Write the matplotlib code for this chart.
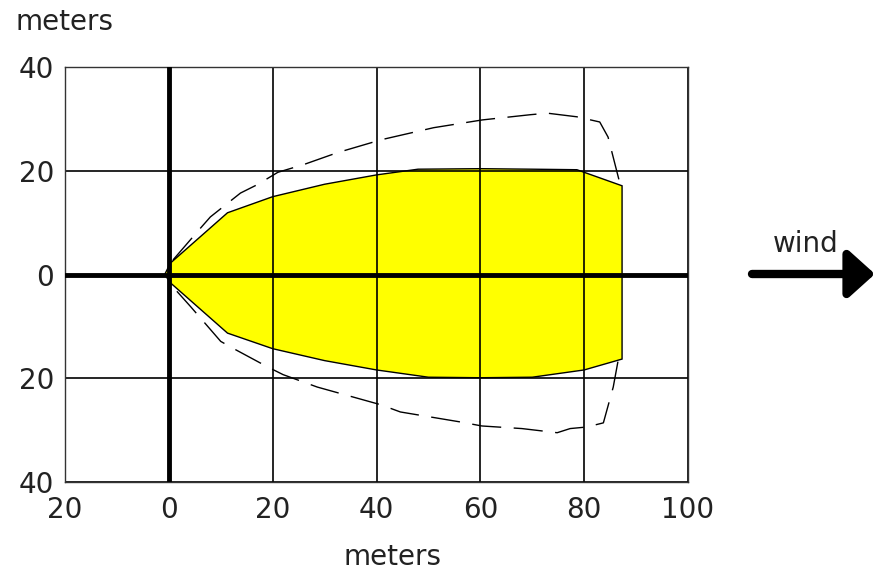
import numpy as np
import matplotlib
matplotlib.use("Agg")
import matplotlib.pyplot as plt

plt.rcParams.update({'font.family': 'DejaVu Sans', 'font.size': 20})

# yellow footprint: upper edge left->right, lower edge right->left
zone_x_up = [-0.8, 0.3, 11.3, 20, 30, 40, 48, 60, 70, 78.6, 87.3]
zone_y_up = [0.0, 2.2, 11.9, 15.0, 17.4, 19.2, 20.3, 20.4, 20.3, 20.2, 17.1]
zone_x_lo = [87.3, 80.0, 70, 60, 50, 40, 30, 20, 11.3, 0.3]
zone_y_lo = [-16.3, -18.4, -19.8, -19.9, -19.8, -18.4, -16.6, -14.3, -11.3, -1.6]

# dashed envelope: upper edge left->right, lower edge right->left
env_x_up = [0.8, 5.8, 8.0, 13.8, 17.0, 21.0, 26.0, 32.5, 41.0, 51.0, 60.4, 69.6, 72.9, 78.6, 83.0, 84.6, 87.0]
env_y_up = [2.8, 8.6, 11.1, 15.7, 17.3, 19.7, 21.2, 23.5, 26.0, 28.3, 29.8, 30.8, 31.1, 30.4, 29.4, 26.5, 17.1]
env_x_lo = [86.5, 85.6, 83.7, 80.5, 77.3, 74.8, 68.0, 60.3, 56.0, 53.6, 44.6, 40.8, 28.6, 22.0, 19.0, 12.5, 10.0, 4.2, 0.8]
env_y_lo = [-16.8, -21.7, -28.6, -29.4, -29.7, -30.5, -29.7, -29.2, -28.4, -28.0, -26.5, -25.1, -21.7, -19.3, -17.8, -14.3, -12.9, -6.2, -2.4]

x_ticks = [-20, 0, 20, 40, 60, 80, 100]
x_tick_labels = ['20', '0', '20', '40', '60', '80', '100']
y_ticks = [-40, -20, 0, 20, 40]
y_tick_labels = ['40', '20', '0', '20', '40']

fig = plt.figure(figsize=(8.76, 5.71), dpi=100)
ax = fig.add_axes([65/876, 89/571, 623/876, 415/571])

# footprint polygon
px = zone_x_up + zone_x_lo
py = zone_y_up + zone_y_lo
ax.fill(px, py, facecolor='#ffff00', edgecolor='k', linewidth=1.0, zorder=1)

# grid
for xv in x_ticks:
    ax.axvline(xv, color='k', linewidth=1.2, zorder=2)
for yv in y_ticks:
    ax.axhline(yv, color='k', linewidth=1.2, zorder=2)

# thick axes through origin
ax.axvline(0, color='k', linewidth=3.5, zorder=3)
ax.axhline(0, color='k', linewidth=3.5, zorder=3)

# dashed envelope (two open branches)
for xs, ys in [(env_x_up, env_y_up), (env_x_lo, env_y_lo)]:
    line, = ax.plot(xs, ys, color='k', linewidth=1.0, zorder=4)
    line.set_dashes([21, 9])

ax.set_xlim(-20, 100)
ax.set_ylim(-40, 40)
ax.set_xticks(x_ticks)
ax.set_xticklabels(x_tick_labels)
ax.set_yticks(y_ticks)
ax.set_yticklabels(y_tick_labels)
ax.tick_params(axis='both', length=0, colors='#222222')
ax.tick_params(axis='x', pad=10)
ax.tick_params(axis='y', pad=8)
for s in ax.spines.values():
    s.set_linewidth(1.0)
    s.set_color('#333333')

fig.text(392/876, 6/571, 'meters', ha='center', va='baseline', color='#222222')
fig.text(15/876, 541/571, 'meters', ha='left', va='baseline', color='#222222')
fig.text(773/876, 319/571, 'wind', ha='left', va='baseline', color='#222222')

ax.annotate('', xy=(875, 297), xytext=(752, 297), xycoords='figure pixels',
            textcoords='figure pixels',
            arrowprops=dict(arrowstyle='-|>,head_length=0.4,head_width=0.36',
                            mutation_scale=40, linewidth=6, color='k',
                            joinstyle='round', capstyle='round',
                            shrinkA=0, shrinkB=0))

plt.savefig('out.png', dpi=100)
